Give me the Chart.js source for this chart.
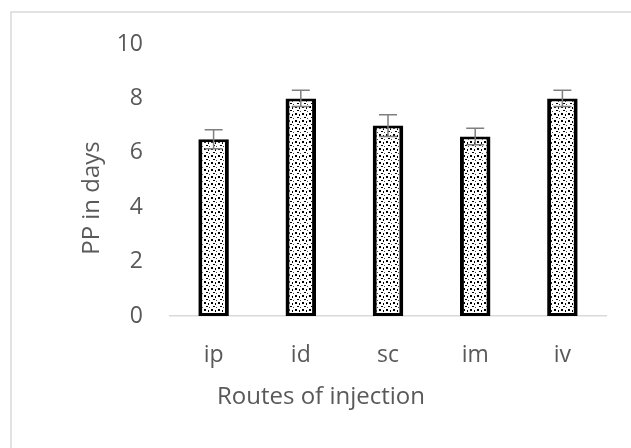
<!DOCTYPE html>
<html>
<head>
<meta charset="utf-8">
<script src="https://cdn.jsdelivr.net/npm/chart.js@4/dist/chart.umd.min.js"></script>
<style>
  html, body { margin: 0; padding: 0; background: #ffffff; }
  #wrap { width: 631px; height: 448px; }
</style>
</head>
<body>
<div id="wrap"><canvas id="c" width="631" height="448"></canvas></div>
<script>
const categories = ['ip', 'id', 'sc', 'im', 'iv'];
const ppDays = [6.5, 8.0, 7.0, 6.6, 8.0];
const ppError = [0.35, 0.3, 0.4, 0.3, 0.3];
const yMin = 0, yMax = 10, yStep = 2;
const xTitle = 'Routes of injection';
const yTitle = 'PP in days';

const FONT = "'Open Sans', 'Noto Sans', sans-serif";
const GREY = '#595959';

function makePattern() {
  const t = document.createElement('canvas');
  t.width = 7; t.height = 7;
  const g = t.getContext('2d');
  g.fillStyle = '#ffffff';
  g.fillRect(0, 0, 7, 7);
  g.fillStyle = '#000000';
  g.fillRect(1, 1, 2, 2);
  g.fillRect(5, 2, 1, 2);
  g.fillRect(3, 5, 2, 1);
  g.fillStyle = '#444444';
  g.fillRect(6, 6, 1, 1);
  return document.getElementById('c').getContext('2d').createPattern(t, 'repeat');
}

const framePlugin = {
  id: 'frame',
  beforeDraw(chart) {
    const ctx = chart.ctx;
    ctx.save();
    ctx.strokeStyle = '#d9d9d9';
    ctx.lineWidth = 1.5;
    ctx.beginPath();
    ctx.moveTo(11, 448);
    ctx.lineTo(11, 12);
    ctx.lineTo(631, 12);
    ctx.stroke();
    ctx.restore();
  }
};

const errorPlugin = {
  id: 'errbars',
  afterDatasetsDraw(chart) {
    const ctx = chart.ctx;
    const meta = chart.getDatasetMeta(0);
    const ys = chart.scales.y;
    ctx.save();
    ctx.strokeStyle = '#7f7f7f';
    ctx.lineWidth = 1.5;
    meta.data.forEach((bar, i) => {
      const v = ppDays[i], e = ppError[i];
      const x = bar.x;
      const yHi = ys.getPixelForValue(v + e);
      const yLo = ys.getPixelForValue(v - e);
      const cap = 9;
      ctx.beginPath();
      ctx.moveTo(x, yHi); ctx.lineTo(x, yLo);
      ctx.moveTo(x - cap, yHi); ctx.lineTo(x + cap, yHi);
      ctx.moveTo(x - cap, yLo); ctx.lineTo(x + cap, yLo);
      ctx.stroke();
    });
    ctx.restore();
  }
};

const titlesPlugin = {
  id: 'axisTitles',
  afterDraw(chart) {
    const ctx = chart.ctx;
    ctx.save();
    ctx.fillStyle = GREY;
    ctx.font = "24px " + FONT;
    ctx.textAlign = 'center';
    ctx.textBaseline = 'middle';
    ctx.fillText(xTitle, 321, 397);
    ctx.translate(92, 198);
    ctx.rotate(-Math.PI / 2);
    ctx.fillText(yTitle, 0, 0);
    ctx.restore();
  }
};

const ctx = document.getElementById('c');
new Chart(ctx, {
  type: 'bar',
  data: {
    labels: categories,
    datasets: [{
      label: yTitle,
      data: ppDays,
      backgroundColor: makePattern(),
      borderColor: '#000000',
      borderWidth: { top: 3, bottom: 3, left: 4, right: 4 },
      borderSkipped: false,
      barPercentage: 0.35,
      categoryPercentage: 1.0
    }]
  },
  options: {
    responsive: false,
    animation: false,
    devicePixelRatio: 1,
    layout: { padding: { left: 0, right: 25, top: 44, bottom: 0 } },
    plugins: {
      legend: { display: false },
      tooltip: { enabled: false }
    },
    scales: {
      x: {
        grid: { display: false, drawTicks: false },
        border: { display: true, color: '#d9d9d9', width: 1.5 },
        ticks: { color: GREY, font: { family: FONT, size: 23 }, padding: 26 },
        afterFit(scale) { scale.height = 132; }
      },
      y: {
        min: yMin, max: yMax,
        grid: { display: false, drawTicks: false },
        border: { display: false },
        ticks: { stepSize: yStep, color: GREY, font: { family: FONT, size: 23 }, padding: 27 },
        afterFit(scale) { scale.width = 170; }
      }
    }
  },
  plugins: [framePlugin, errorPlugin, titlesPlugin]
});
</script>
</body>
</html>
